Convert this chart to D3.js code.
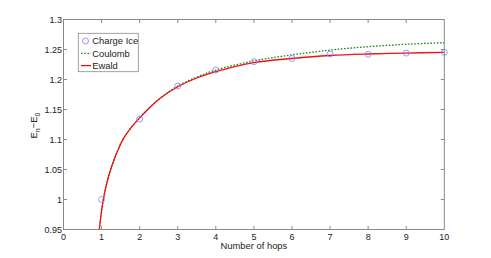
<!DOCTYPE html>
<html>
<head>
<meta charset="utf-8">
<script src="https://cdn.jsdelivr.net/npm/d3@7"></script>
<style>
  body { margin: 0; background: #fff; }
  svg { display: block; font-family: "Liberation Sans", Arial, sans-serif; }
  .tick-label { font-size: 9px; fill: #222; }
  .label { font-size: 9.4px; fill: #222; }
</style>
</head>
<body>
<div id="chart"></div>
<script>
const hops = [1, 2, 3, 4, 5, 6, 7, 8, 9, 10];
const chargeIce = [1.0, 1.134, 1.189, 1.2158, 1.2297, 1.235, 1.2425, 1.242, 1.244, 1.2453];

const ewaldX = [0.94, 1.045, 1.18, 1.35, 1.57, 1.79, 2.0, 2.18, 2.53, 3, 3.5, 4, 5, 6, 7, 8, 9, 10];
const ewaldY = [0.95, 1.0, 1.038, 1.070, 1.101, 1.121, 1.136, 1.148, 1.1685, 1.188, 1.2025, 1.213, 1.228, 1.235, 1.240, 1.2425, 1.244, 1.2453];

const coulombX = [0.94, 1.045, 1.18, 1.35, 1.57, 1.79, 2.0, 2.18, 2.53, 3, 3.5, 4, 5, 6, 7, 8, 9, 10];
const coulombY = [0.95, 1.0, 1.038, 1.070, 1.101, 1.121, 1.136, 1.148, 1.1685, 1.189, 1.204, 1.2158, 1.231, 1.241, 1.249, 1.2547, 1.2587, 1.2613];

const xTicks = d3.range(0, 11);
const yTicks = [0.95, 1, 1.05, 1.1, 1.15, 1.2, 1.25, 1.3];

const width = 491, height = 258;
const box = { left: 63.5, right: 444.3, top: 19.5, bottom: 229.5 };

const x = d3.scaleLinear().domain([0, 10]).range([box.left, box.right]);
const y = d3.scaleLinear().domain([0.95, 1.3]).range([box.bottom, box.top]);

const svg = d3.select("#chart").append("svg")
  .attr("width", width)
  .attr("height", height);

const axisColor = "#8a8a8a";
const tickLen = 3.5;
const green = "#1a8a1a", red = "#f01010", blue = "#8080f4";

// clip so the curves stop at the axes box
svg.append("clipPath").attr("id", "plot-clip")
  .append("rect")
  .attr("x", box.left).attr("y", box.top)
  .attr("width", box.right - box.left).attr("height", box.bottom - box.top);

const plot = svg.append("g").attr("clip-path", "url(#plot-clip)");

const line = d3.line()
  .x(d => x(d[0]))
  .y(d => y(d[1]))
  .curve(d3.curveCatmullRom.alpha(0.5));

plot.append("path")
  .datum(d3.zip(coulombX, coulombY))
  .attr("d", line)
  .attr("fill", "none")
  .attr("stroke", green)
  .attr("stroke-width", 1.3)
  .attr("stroke-dasharray", "1.6,1.6");

plot.append("path")
  .datum(d3.zip(ewaldX, ewaldY))
  .attr("d", line)
  .attr("fill", "none")
  .attr("stroke", red)
  .attr("stroke-width", 1.3);

svg.append("g")
  .selectAll("circle")
  .data(d3.zip(hops, chargeIce))
  .join("circle")
  .attr("cx", d => x(d[0]))
  .attr("cy", d => y(d[1]))
  .attr("r", 3)
  .attr("fill", "none")
  .attr("stroke", blue)
  .attr("stroke-width", 0.8);

// axes box with inward ticks on all sides
const axes = svg.append("g")
  .attr("stroke", axisColor)
  .attr("stroke-width", 1)
  .attr("fill", "none");

axes.append("rect")
  .attr("x", box.left).attr("y", box.top)
  .attr("width", box.right - box.left).attr("height", box.bottom - box.top);

axes.selectAll(".xt")
  .data(xTicks.slice(1, -1))
  .join("path")
  .attr("d", d => `M${x(d)},${box.bottom}v${-tickLen}M${x(d)},${box.top}v${tickLen}`);

axes.selectAll(".yt")
  .data(yTicks.slice(1, -1))
  .join("path")
  .attr("d", d => `M${box.left},${y(d)}h${tickLen}M${box.right},${y(d)}h${-tickLen}`);

svg.append("g")
  .selectAll("text")
  .data(xTicks)
  .join("text")
  .attr("class", "tick-label")
  .attr("x", d => x(d))
  .attr("y", box.bottom + 10)
  .attr("text-anchor", "middle")
  .text(d => d);

svg.append("g")
  .selectAll("text")
  .data(yTicks)
  .join("text")
  .attr("class", "tick-label")
  .attr("x", box.left - 1.5)
  .attr("y", d => y(d) + 3.2)
  .attr("text-anchor", "end")
  .text(d => d);

svg.append("text")
  .attr("class", "label")
  .attr("x", (box.left + box.right) / 2)
  .attr("y", box.bottom + 19.5)
  .attr("text-anchor", "middle")
  .text("Number of hops");

const yLabel = svg.append("text")
  .attr("class", "label")
  .attr("transform", `translate(36.8,${(box.top + box.bottom) / 2 + 1}) rotate(-90)`)
  .attr("text-anchor", "middle");
yLabel.append("tspan").text("E");
yLabel.append("tspan").attr("dy", 3).attr("font-size", 7).text("n");
yLabel.append("tspan").attr("dy", -3).text("−E");
yLabel.append("tspan").attr("dy", 3).attr("font-size", 7).text("0");

// legend
const legend = svg.append("g");
legend.append("rect")
  .attr("x", 78.3).attr("y", 33.3)
  .attr("width", 60).attr("height", 38.4)
  .attr("fill", "#fff")
  .attr("stroke", axisColor)
  .attr("stroke-width", 0.8);

const entries = [
  { name: "Charge Ice", kind: "circle" },
  { name: "Coulomb", kind: "dotted" },
  { name: "Ewald", kind: "solid" }
];

entries.forEach((e, i) => {
  const cy = 41 + i * 12.3;
  if (e.kind === "circle") {
    legend.append("circle")
      .attr("cx", 85.5).attr("cy", cy).attr("r", 3)
      .attr("fill", "none").attr("stroke", blue).attr("stroke-width", 0.8);
  } else {
    legend.append("line")
      .attr("x1", 81).attr("x2", 91).attr("y1", cy).attr("y2", cy)
      .attr("stroke", e.kind === "dotted" ? green : red)
      .attr("stroke-width", 1.3)
      .attr("stroke-dasharray", e.kind === "dotted" ? "1.6,1.6" : null);
  }
  legend.append("text")
    .attr("class", "label")
    .attr("x", 92.3)
    .attr("y", cy + 3.4)
    .text(e.name);
});
</script>
</body>
</html>
